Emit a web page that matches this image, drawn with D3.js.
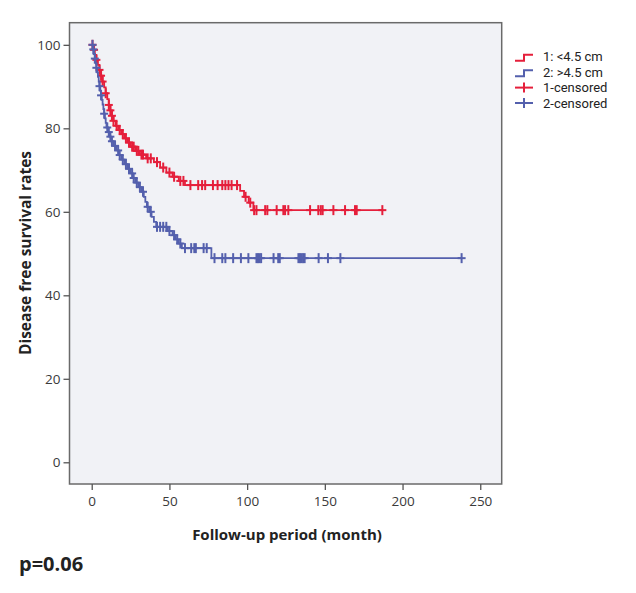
<!DOCTYPE html>
<html>
<head>
<meta charset="utf-8">
<script src="https://cdn.jsdelivr.net/npm/d3@7"></script>
<style>
  html, body { margin: 0; padding: 0; background: #ffffff; }
  svg { display: block; }
  text { font-family: "Open Sans", "Noto Sans", sans-serif; }
</style>
</head>
<body>
<svg id="chart" width="636" height="593"></svg>
<script>
// ---- Data ----
const seriesNames = ["1: <4.5 cm", "2: >4.5 cm"];
const censorNames = ["1-censored", "2-censored"];
const xTicks = [0, 50, 100, 150, 200, 250];
const yTicks = [0, 20, 40, 60, 80, 100];

// Kaplan-Meier event steps: [month, survival % after the step]
const redEvents = [[0,100],[1,98.8],[2,97.6],[3,96.4],[4,95.2],[5,94],[6,92.6],[7,91.2],[8,89.8],[9,88.4],[10,87],[11,85.6],[12,84.3],[13,83],[14,81.8],[15.5,80.6],[17,79.6],[19,78.6],[21,77.6],[23,76.6],[25,75.6],[28,74.6],[31,73.7],[35,72.8],[40,71.9],[44,70.6],[48,69.4],[52,68.4],[56,67.4],[60,66.4],[95.5,65.0],[98,63.6],[101,62.2],[104,60.4]];
const redCensored = [0.5,1.5,3,5,6,7,9,11,12,13,14,16,18,20,22,24,26,27,29,30,32,33,36,38,42,46,50,53,57,59,63.5,68.5,71,73,78,81,84,86,88,90,93.5,99,102,104.5,106,111.6,113,119,123.3,124.4,126.5,140.5,145.8,147.4,148.6,155.5,163,169.4,170.5,187];

const blueEvents = [[0,100],[1,98.9],[1.5,97.8],[2,96.7],[2.5,95.6],[3,94.5],[3.5,93.4],[4,92.3],[4.5,91.2],[5,90.1],[5.5,89],[6,87.9],[6.5,86.8],[7,85.7],[7.5,84.6],[8,83.5],[8.5,82.4],[9,81.3],[9.5,80.2],[10.5,79.1],[11.5,78],[12.5,76.9],[14,75.8],[16,74.7],[17.5,73.6],[19,72.5],[21,71.4],[23,70.3],[25,69.2],[26.5,68.1],[28,67],[30,65.9],[32,64.8],[33.5,63.6],[34.5,62.4],[35.5,61.2],[37,60],[38.5,58.8],[40,57.6],[41.5,56.4],[49,55.4],[52,54.4],[54,53.4],[56,52.4],[58,51.3],[77,48.9]];
const blueCensored = [0.5,1,2,3,5,6,8,10,11,12,13,15,17,18,20,22,24,26,27,29,31,33,36,38,42,44,46,48,50,53,55,57,60,64,66,67,72,74,79,84,86,91,96,100.8,106,107,108,109,117,120,121,133,134,135,136,137,146,152,160,238];

const colors = ["#e51f3b", "#5460ad"];

// ---- Layout ----
const svg = d3.select("#chart");
const L = 69.5, R = 501.7, T = 22.7, B = 484;
const x = d3.scaleLinear().domain([-14.3, 263.8]).range([L, R]);
const y = d3.scaleLinear().domain([-5.2, 105.3]).range([B, T]);

// plot background + frame
svg.append("rect").attr("x", L).attr("y", T).attr("width", R - L).attr("height", B - T)
  .attr("fill", "#f1f2f6").attr("stroke", "#6a6a6a").attr("stroke-width", 1.5);

// axes
const xAxis = svg.append("g").attr("transform", `translate(0,${B})`)
  .call(d3.axisBottom(x).tickValues(xTicks).tickSize(6).tickSizeOuter(0).tickPadding(6));
const yAxis = svg.append("g").attr("transform", `translate(${L},0)`)
  .call(d3.axisLeft(y).tickValues(yTicks).tickSize(6).tickSizeOuter(0).tickPadding(3));
[xAxis, yAxis].forEach(g => {
  g.select(".domain").remove();
  g.selectAll(".tick line").attr("stroke", "#555").attr("stroke-width", 1.3);
  g.selectAll(".tick text").attr("fill", "#3a3a3a").style("font-size", "13.5px")
    .style("font-family", "'Open Sans', sans-serif");
});

// KM curves
function survAt(events, t) {
  let s = 100;
  for (const e of events) { if (e[0] <= t) s = e[1]; }
  return s;
}
const line = d3.line().x(d => x(d[0])).y(d => y(d[1])).curve(d3.curveStepAfter);
const groups = [
  {events: redEvents, cens: redCensored, color: colors[0]},
  {events: blueEvents, cens: blueCensored, color: colors[1]}
];
groups.forEach(g => {
  const last = d3.max(g.cens);
  const pts = g.events.concat([[last, survAt(g.events, last)]]);
  svg.append("path").datum(pts).attr("d", line)
    .attr("fill", "none").attr("stroke", g.color).attr("stroke-width", 1.8);
  const cg = svg.append("g").attr("stroke", g.color).attr("stroke-width", 2);
  g.cens.forEach(t => {
    const cx = x(t), cy = y(survAt(g.events, t));
    cg.append("line").attr("x1", cx).attr("x2", cx).attr("y1", cy - 5).attr("y2", cy + 5);
    cg.append("line").attr("x1", cx - 4).attr("x2", cx + 4).attr("y1", cy).attr("y2", cy);
  });
});

// axis titles
svg.append("text").attr("x", 287).attr("y", 540).attr("text-anchor", "middle")
  .style("font-size", "15px").style("font-weight", "bold").attr("fill", "#222")
  .text("Follow-up period (month)");
svg.append("text").attr("transform", `translate(31,253) rotate(-90)`).attr("text-anchor", "middle")
  .style("font-size", "15.5px").style("font-weight", "bold").attr("fill", "#222")
  .text("Disease free survival rates");
svg.append("text").attr("x", 19).attr("y", 571)
  .style("font-size", "20px").style("font-weight", "bold").attr("fill", "#222")
  .text("p=0.06");

// legend
const lg = svg.append("g").style("font-family", "Roboto, sans-serif");
const rowsY = [56.8, 72.2, 87.6, 103];
const lx0 = 515, lx1 = 533, tx = 543;
[0, 1].forEach(i => {
  const cy = rowsY[i];
  lg.append("path")
    .attr("d", `M${lx0},${cy + 4}H${(lx0 + lx1) / 2}V${cy - 2}H${lx1}`)
    .attr("fill", "none").attr("stroke", colors[i]).attr("stroke-width", 2);
  lg.append("text").attr("x", tx).attr("y", cy + 4.5).style("font-size", "13px")
    .style("font-family", "Roboto, sans-serif")
    .attr("fill", "#222").text(seriesNames[i]);
});
[0, 1].forEach(i => {
  const cy = rowsY[i + 2];
  const cx = (lx0 + lx1) / 2;
  lg.append("line").attr("x1", lx0).attr("x2", lx1).attr("y1", cy).attr("y2", cy)
    .attr("stroke", colors[i]).attr("stroke-width", 2);
  lg.append("line").attr("x1", cx).attr("x2", cx).attr("y1", cy - 5).attr("y2", cy + 5)
    .attr("stroke", colors[i]).attr("stroke-width", 2);
  lg.append("text").attr("x", tx).attr("y", cy + 4.5).style("font-size", "13px")
    .style("font-family", "Roboto, sans-serif")
    .attr("fill", "#222").text(censorNames[i]);
});
</script>
</body>
</html>
